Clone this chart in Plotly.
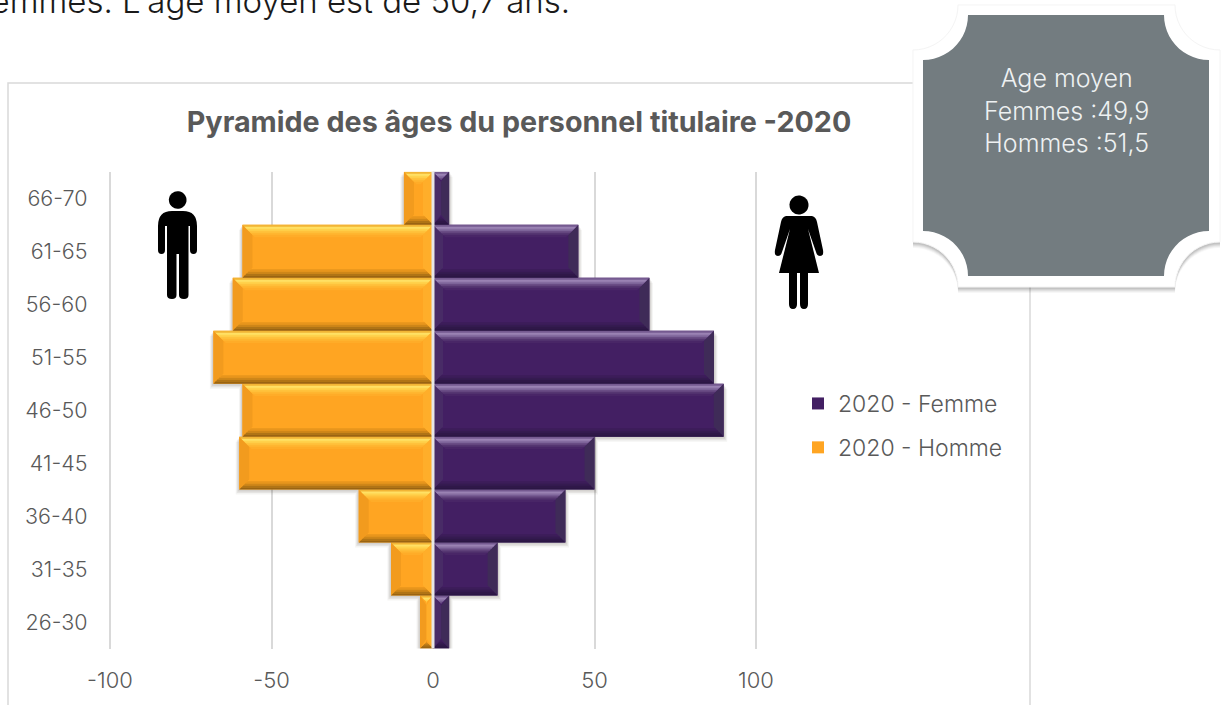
import numpy as np
import plotly.graph_objects as go

W, H = 1223, 705
categories = ["26-30", "31-35", "36-40", "41-45", "46-50", "51-55", "56-60", "61-65", "66-70"]
femmes = [5, 20, 41, 50, 90, 87, 67, 45, 5]
hommes = [-4, -13, -23, -60, -59, -68, -62, -59, -9]
x_ticks = [-100, -50, 0, 50, 100]
title_text = "Pyramide des âges du personnel titulaire -2020"
intro_text = "femmes. L'âge moyen est de 50,7 ans."
callout_text = "Age moyen<br>Femmes :49,9<br>Hommes :51,5"

FONT = "Inter"
GREY = "#595959"
L, R, T, B = 110, 756, 171.8, 648.5
ux = 200 / (R - L)          # data units per pixel
uy = 9 / (B - T)


def fx(px):
    return px / W


def fy(py):
    return 1 - py / H


def poly(points, close=True):
    s = "M " + " L ".join(f"{fx(x):.5f},{fy(y):.5f}" for x, y in points)
    return s + (" Z" if close else "")


def plaque(x0, y0, x1, y1, r):
    a = np.linspace(0, np.pi / 2, 14)
    pts = []
    pts += [(x0 + r * np.sin(t), y0 + r * np.cos(t)) for t in a]
    pts += [(x1 - r * np.cos(t), y0 + r * np.sin(t)) for t in a]
    pts += [(x1 - r * np.sin(t), y1 - r * np.cos(t)) for t in a]
    pts += [(x0 + r * np.cos(t), y1 - r * np.sin(t)) for t in a]
    return poly(pts)


def pxpath(s):
    out = []
    for tok in s.split():
        if "," in tok:
            a, b = tok.split(",")
            out.append(f"{fx(float(a)):.5f},{fy(float(b)):.5f}")
        else:
            out.append(tok)
    return " ".join(out)


def circle(cx, cy, r):
    a = np.linspace(0, 2 * np.pi, 40)[:-1]
    return poly([(cx + r * np.cos(t), cy + r * np.sin(t)) for t in a])


MAN = ("M 158,226 Q 158,211 172,211 L 183,211 Q 197,211 197,226 L 197,250 Q 197,254 193.5,254 "
       "Q 190,254 190,250 L 190,226 L 188.5,226 L 188.5,295 Q 188.5,299 184,299 Q 179,299 179,295 "
       "L 179,254 L 176.5,254 L 176.5,295 Q 176.5,299 172,299 Q 167,299 167,295 L 167,226 L 165,226 "
       "L 165,250 Q 165,254 161.5,254 Q 158,254 158,250 Z")
WOMAN = ("M 786,216 Q 782,217 781,222 L 775,250 Q 774,256 778,256 Q 781,256 782,252 L 790,229 "
         "L 779,273 L 789,273 L 789,304 Q 789,309 793,309 Q 797,309 797,304 L 797,273 L 800,273 "
         "L 800,304 Q 800,309 804,309 Q 808,309 808,304 L 808,273 L 819,273 L 808,229 L 816,252 "
         "Q 817,256 820,256 Q 824,256 823,250 L 817,222 Q 816,217 812,216 Z")

STYLE = {
    "f": dict(base="#431f63",
              top=["#755a90", "#9a82b3", "#856ca0", "#6a4d85", "#553671", "#492667"],
              bottom=["#2b1644", "#2f1848", "#351b50", "#3c1d59"],
              left="#482b66", right="#3f2b58"),
    "h": dict(base="#ffa522",
              top=["#f2b535", "#ffe064", "#ffd24c", "#ffc23c", "#ffb630", "#ffac28"],
              bottom=["#9a6412", "#b07416", "#cf8618", "#e8951c"],
              left="#f29b1e", right="#ffae2a"),
}


def bevel_polys(values, style_key, d_top=2.0, d_bottom=2.0):
    groups = {}

    def add(color, pts):
        xs, ys = groups.setdefault(color, ([], []))
        xs.extend([p[0] for p in pts] + [pts[0][0], None])
        ys.extend([p[1] for p in pts] + [pts[0][1], None])

    st = STYLE[style_key]
    for i, v in enumerate(values):
        x0, x1 = min(v, 0), max(v, 0)
        half = (x1 - x0) / 2
        yt, yb = i + 0.5, i - 0.5
        dx = lambda d: min(d * ux, half)
        side = 10
        add(st["left"], [(x0, yt), (x0 + dx(side), yt - side * uy), (x0 + dx(side), yb + side * uy), (x0, yb)])
        add(st["right"], [(x1, yt), (x1 - dx(side), yt - side * uy), (x1 - dx(side), yb + side * uy), (x1, yb)])
        for k, c in enumerate(st["top"]):
            a, b = k * d_top, (k + 1) * d_top + 0.4
            add(c, [(x0 + dx(a), yt - a * uy), (x1 - dx(a), yt - a * uy), (x1 - dx(b), yt - b * uy), (x0 + dx(b), yt - b * uy)])
        for k, c in enumerate(st["bottom"]):
            a, b = k * d_bottom, (k + 1) * d_bottom + 0.4
            add(c, [(x0 + dx(a), yb + a * uy), (x1 - dx(a), yb + a * uy), (x1 - dx(b), yb + b * uy), (x0 + dx(b), yb + b * uy)])
    return groups


ypos = list(range(len(categories)))
fig = go.Figure()

# soft shadows below the bars
for vals in (femmes, hommes):
    for k, alpha in ((5, 0.05), (3.5, 0.07), (2, 0.09)):
        fig.add_trace(go.Bar(
            y=ypos, x=[v + np.sign(v) * k * 0.7 * ux for v in vals], orientation="h",
            width=1, offset=-0.5 - k * uy,
            marker=dict(color=f"rgba(40,30,20,{alpha})", line_width=0),
            showlegend=False, hoverinfo="skip"))

fig.add_trace(go.Bar(y=ypos, x=femmes, orientation="h", name="2020 - Femme", width=1, offset=-0.5,
                     legendgroup="f", marker=dict(color=STYLE["f"]["base"], line_width=0)))
fig.add_trace(go.Bar(y=ypos, x=hommes, orientation="h", name="2020 - Homme", width=1, offset=-0.5,
                     legendgroup="h", marker=dict(color=STYLE["h"]["base"], line_width=0)))

for key, vals in (("f", femmes), ("h", hommes)):
    for color, (xs, ys) in bevel_polys(vals, key).items():
        fig.add_trace(go.Scatter(x=xs, y=ys, mode="lines", fill="toself", fillcolor=color,
                                 line=dict(width=0), showlegend=False, hoverinfo="skip"))

shapes = [
    # chart frame
    dict(type="path", xref="paper", yref="paper", path=poly([(8, 720), (8, 83), (1030, 83), (1030, 720)]),
         line=dict(color="#d9d9d9", width=1.5), layer="below"),
    # axis line at zero
    dict(type="line", xref="x", yref="paper", x0=0, x1=0, y0=fy(B), y1=fy(T),
         line=dict(color="#e6e6e6", width=3), layer="above"),
]
# callout shadow and plate
for off, alpha in ((6, 0.03), (5, 0.04), (4, 0.05), (3, 0.06), (2, 0.07)):
    shapes.append(dict(type="path", xref="paper", yref="paper", path=plaque(913, 5 + off, 1220, 287 + off, 45),
                       fillcolor=f"rgba(0,0,0,{alpha})", line_width=0, layer="above"))
shapes += [
    dict(type="path", xref="paper", yref="paper", path=plaque(913, 5, 1220, 287, 45),
         fillcolor="#ffffff", line=dict(color="#f4f4f4", width=1), layer="above"),
    dict(type="path", xref="paper", yref="paper", path=plaque(923, 15, 1209, 276, 45),
         fillcolor="#737c80", line_width=0, layer="above"),
    # figures
    dict(type="path", xref="paper", yref="paper", path=circle(177.7, 200, 8.8), fillcolor="#000", line_width=0, layer="above"),
    dict(type="path", xref="paper", yref="paper", path=pxpath(MAN), fillcolor="#000", line_width=0, layer="above"),
    dict(type="path", xref="paper", yref="paper", path=circle(799, 205, 9.5), fillcolor="#000", line_width=0, layer="above"),
    dict(type="path", xref="paper", yref="paper", path=pxpath(WOMAN), fillcolor="#000", line_width=0, layer="above"),
]

annotations = [
    dict(text=intro_text, xref="paper", yref="paper", x=fx(572), y=fy(12), xanchor="right", yanchor="bottom",
         yshift=-11, showarrow=False, font=dict(family=FONT, size=33, weight=300, color="#1a1a1a")),
    dict(text=callout_text, xref="paper", yref="paper", x=fx(1066), y=fy(61), xanchor="center", yanchor="top",
         showarrow=False, align="center", font=dict(family=FONT, size=25, weight=300, color="#eef1f2")),
]

# a little room past +/-100 so that plotly keeps the outer gridlines
pad = 1.0
fig.update_layout(
    width=W, height=H, margin=dict(l=0, r=0, t=0, b=0, autoexpand=False),
    paper_bgcolor="white", plot_bgcolor="white", barmode="overlay",
    font=dict(family=FONT, color=GREY, size=22),
    title=dict(text=f"<b>{title_text}</b>", xref="paper", yref="paper", x=fx(519), y=fy(122),
               xanchor="center", yanchor="middle", font=dict(family=FONT, size=28.7, color=GREY)),
    xaxis=dict(domain=[fx(L - pad / ux), fx(R + pad / ux)], range=[-100 - pad, 100 + pad], tickvals=x_ticks,
               ticktext=[str(t) for t in x_ticks],
               showgrid=True, gridcolor="#d9d9d9", gridwidth=2, zeroline=False, showline=False,
               ticks="outside", ticklen=12, tickcolor="rgba(0,0,0,0)",
               tickfont=dict(size=22, weight=300, color=GREY)),
    yaxis=dict(domain=[fy(B), fy(T)], range=[-0.5, 8.5], tickvals=ypos, ticktext=categories,
               showgrid=False, zeroline=False, showline=False,
               ticks="outside", ticklen=14, tickcolor="rgba(0,0,0,0)",
               tickfont=dict(size=21.5, weight=300, color=GREY)),
    legend=dict(x=fx(798), y=fy(382), xanchor="left", yanchor="top", traceorder="grouped", tracegroupgap=11,
                font=dict(family=FONT, size=23, weight=300, color=GREY), bgcolor="rgba(0,0,0,0)", itemwidth=30),
    shapes=shapes, annotations=annotations,
)

fig.write_html("out.html", config={"displayModeBar": False},
               post_script="document.body.style.margin='0';document.body.style.overflow='hidden';")
